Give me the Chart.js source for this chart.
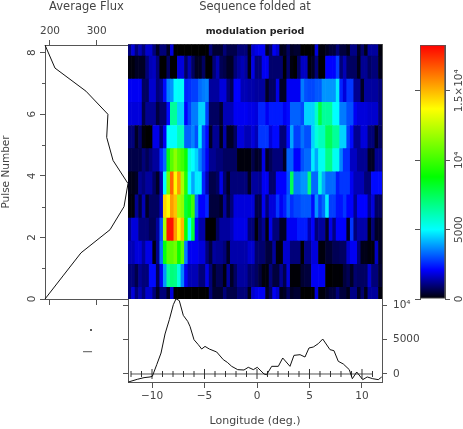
<!DOCTYPE html>
<html>
<head>
<meta charset="utf-8">
<script src="https://cdn.jsdelivr.net/npm/chart.js@4/dist/chart.umd.min.js"></script>
<style>
html,body{margin:0;padding:0;background:#fff;width:463px;height:429px;overflow:hidden}
canvas{position:absolute;left:0;top:0}
</style>
</head>
<body>
<canvas id="cLeft" width="463" height="429"></canvas>
<canvas id="cHeat" width="463" height="429"></canvas>
<canvas id="cBottom" width="463" height="429"></canvas>
<canvas id="cMarks" width="463" height="429"></canvas>
<canvas id="cBar" width="463" height="429"></canvas>
<script>
// ---------- data ----------
const pulseNumbers = [0, 0.75, 1.5, 2.25, 3, 3.75, 4.5, 5.25, 6, 6.75, 7.5, 8.25];
const averageFlux = [189.3, 227.8, 266.4, 328.5, 358.5, 367, 335, 321.4, 324, 277, 210.7, 189.3];

const pulse000 = [1000,1800,1000,1500,1000,1700,1700,1000,300,1000,1000,300,1800,0,0,0,0,0,0,0,0,0,0,1000,400,400,400,1000,600,600,600,1000,1000,1000,200,1700,
  1900,2000,2000,300,800,2000,1700,200,300,800,300,400,400,0,0,0,0,1800,100,100,300,500,500,1000,500,500,200,1100,1100,300,900,200,1300,1300,1300,100];
const pulse075 = [1000,1000,600,1200,1000,1000,2200,2200,700,2000,3800,6500,7000,6800,5500,3600,2000,1500,1500,1500,1000,1000,1900,1000,300,700,700,100,1300,300,800,1300,1300,1300,900,1000,
  800,500,100,100,1000,500,500,1200,600,1800,50,50,50,400,500,500,2000,2000,2000,2000,0,0,50,50,50,500,700,300,900,800,800,800,1700,1000,1000,400];
const pulse150 = [1500,1500,1800,1800,1300,1900,1900,100,1200,3400,8500,10500,10500,11000,9000,10500,3500,2000,2000,2000,1800,1800,1000,500,1300,1200,1200,1000,300,1400,1400,1400,1400,1400,1700,1700,
  900,900,900,500,500,1300,100,100,1700,1700,1000,1000,1000,0,1100,1100,1800,1800,100,100,400,400,700,700,800,800,1700,2000,2000,1000,200,200,100,100,1600,300];
const pulse225 = [1200,1800,1800,1000,1000,1000,700,700,1300,3000,12000,18000,18000,15500,13800,15000,9000,5000,8000,2100,1400,1400,0,0,0,800,1300,1300,1300,1500,1900,1900,1900,1900,1000,1000,
  50,800,1200,100,1900,1000,1000,300,300,2000,2000,2000,2400,2400,2400,1500,2100,1000,1300,1300,300,1900,1100,2100,2100,2100,300,2700,1000,1400,1400,1400,100,1000,300,300];
const pulse300 = [100,100,1200,500,1500,300,800,800,800,1600,14500,13800,15500,14800,12000,11500,8000,8500,10000,3300,2100,2100,2500,500,500,500,300,1300,500,1000,1800,1800,1800,1800,1800,1800,
  600,600,2000,1000,1800,1800,2700,2000,2400,3200,2600,2900,2900,3100,3100,3100,2200,3800,2800,3300,4800,2800,2800,2300,2300,2700,2100,2100,1200,2100,2100,2100,1200,1800,800,800];
const pulse375 = [200,200,300,1200,1000,1300,1300,800,300,1500,5000,11000,16500,13800,15500,12000,9500,5000,4000,4800,4800,2500,1500,600,600,800,1900,900,300,1000,1000,1000,1000,1000,300,1300,
  1300,1200,2000,2000,900,900,2100,2100,2100,3000,7500,3500,3500,3800,3800,7000,3300,3300,5500,4000,3300,3300,3300,2400,2700,2700,2700,2000,1500,1500,1500,1000,1000,2200,2200,2200];
const pulse450 = [600,600,600,600,1000,700,1000,1300,1300,2500,3300,8500,10500,11500,10500,10000,9000,5500,5000,4500,3600,2800,2000,1200,1200,1000,1000,800,800,800,800,100,100,100,100,600,
  300,400,1900,300,700,1000,1000,1000,300,3200,3200,2100,2100,3000,3300,3300,4800,4000,5200,5200,6800,6800,5200,5200,3600,2600,2600,1600,1600,1200,1200,1200,300,300,1200,1200];
const pulse525 = [1000,1000,300,800,100,0,0,1900,1900,900,2000,5000,5000,5000,6000,6000,3200,3200,3600,3000,4800,2900,2200,300,1200,1200,200,1400,300,300,800,1800,1800,1500,1500,1800,
  1500,2700,2700,2700,1800,2200,2200,1000,1000,2200,4000,2800,2800,3400,3000,3000,4500,5500,6000,6000,7500,7500,6500,6500,4500,4500,2800,2200,1200,1200,1800,1800,1000,1000,300,800];
const pulse600 = [1800,1800,1800,1800,600,1200,1200,1200,500,900,900,2200,6500,6500,4500,4500,2100,2800,3500,3500,4500,4500,2800,800,800,800,400,1500,1500,1500,2000,2000,2000,2000,1900,1900,
  1800,2500,2500,2000,2400,2400,2400,2400,2000,2200,3200,3200,3200,2900,4500,4500,4500,5800,7800,6500,6500,6500,5000,5000,3500,3500,3000,3000,2000,1800,1800,1800,1700,1700,1700,1000];
const pulse675 = [2000,2000,2000,2000,800,800,1700,1700,1000,1200,2200,3600,3800,5000,5100,5100,2500,2600,2800,2800,3300,3500,3600,1300,1300,1300,1800,1800,1000,700,2100,2100,1500,1500,1400,1400,
  1300,1300,1300,300,800,800,1900,300,300,2000,2000,2000,2000,3500,3000,2900,2900,3100,3100,3800,3800,3800,3800,4800,2500,1800,2700,2700,1200,1200,300,1300,1300,1300,1300,1000];
const pulse750 = [100,100,300,300,300,1000,1500,1600,1000,0,0,800,0,0,1800,1800,800,1500,800,300,300,800,0,0,1000,1500,700,600,300,300,1000,1300,1500,1300,200,1900,
  1000,1000,2000,2000,900,900,900,900,0,900,100,0,800,1600,1600,100,300,1000,0,0,2100,2100,2100,2800,1000,1500,800,800,800,200,1200,1200,800,1000,1000,200];
const pulse825 = [1000,1800,1000,1500,1000,1700,1700,1000,300,1000,1000,300,1800,0,0,0,0,0,0,0,0,0,0,1000,400,400,400,1000,600,600,600,1000,1000,1000,200,1700,
  1900,2000,2000,300,800,2000,1700,200,300,800,300,400,400,0,0,0,0,1800,100,100,300,500,500,1000,500,500,200,1100,1100,300,900,200,1300,1300,1300,100];
const heatRows = [pulse000,pulse075,pulse150,pulse225,pulse300,pulse375,pulse450,pulse525,pulse600,pulse675,pulse750,pulse825];

const profileLongitude = [-12.25,-11.4,-10.76,-10.19,-9.97,-9.55,-9.14,-8.76,-8.35,-7.97,-7.71,-7.4,-7.02,-6.6,-6.38,-6.0,-5.59,-5.27,-4.95,-4.54,-3.84,-3.21,-2.83,-2.41,-1.84,-1.24,-0.83,-0.35,0.03,0.67,0.92,1.4,2.03,2.45,3.14,3.52,4.1,4.57,4.95,5.36,5.84,6.26,6.95,7.33,7.74,8.22,8.79,9.08,9.5,10.07,10.5,11.02,11.55,11.88];
const profileFlux = [-1160,-770,-530,-430,-340,1350,3040,5800,7870,10050,10900,10630,8500,7630,6900,4970,4250,3620,4000,3620,3190,2080,1690,1110,630,580,970,630,970,0,-100,1110,1110,2320,1110,2700,2800,2460,3770,3910,4400,5070,3530,3380,1840,1450,630,-680,290,-820,-430,-680,-820,-430];

const zeroLineTicks = [-12,-11,-10,-9,-8,-7,-6,-5,-4,-3,-2,-1,0,1,2,3,4,5,6,7,8,9,10,11];
const longitudeTicks = [-10,-5,0,5,10];
const longitudeLabels = ['\u221210','\u22125','0','5','10'];
const pulseTicks = [0,2,4,6,8];
const pulseMinorTicks = [1,3,5,7];
const fluxTicks = [200,300];
const profileTicks = [0,5000,10000];
const profileTickLabels = ['0','5000','10\u2074'];
const colorbarTicks = [0,5000,10000,15000];
const colorbarLabels = ['0','5000','10\u2074','1.5\u00d710\u2074'];
const colormapValues = [0,2100,5000,8800,13700,18300];
const colormapColors = [[0,0,0],[0,0,255],[0,255,255],[0,255,0],[255,255,0],[255,0,0]];
const dashFlux = [270.7,290];
const dashLevel = [3230,3230];
const dotFlux = [287.8];
const dotLevel = [6377];

// ---------- ranges and styles ----------
const LON_MIN = -12.286, LON_MAX = 11.905;
const PULSE_MIN = 0, PULSE_MAX = 8.25;
const FLUX_MIN = 189.3, FLUX_MAX = 367;
const PROF_MIN = -1160, PROF_MAX = 10870;
const CB_MAX = 18300;
const FONT = 'DejaVu Sans';
const INK = '#444';
const AXIS = '#555';

Chart.defaults.animation = false;
Chart.defaults.responsive = false;
Chart.defaults.maintainAspectRatio = false;
Chart.defaults.font.family = FONT;
Chart.defaults.color = INK;
Chart.defaults.plugins.legend.display = false;
Chart.defaults.plugins.tooltip.enabled = false;

function colorFor(v){
  const s = colormapValues, c = colormapColors;
  if (v <= s[0]) return 'rgb(0,0,0)';
  for (let i = 1; i < s.length; i++){
    if (v <= s[i]){
      const t = (v - s[i-1]) / (s[i] - s[i-1]);
      const m = c[i-1].map((a,k) => Math.round(a + (c[i][k]-a)*t));
      return `rgb(${m[0]},${m[1]},${m[2]})`;
    }
  }
  return 'rgb(255,0,0)';
}
function fixTicks(values){ return s => { s.ticks = values.map(value => ({value})); }; }
function fixW(w){ return s => { s.width = w; }; }
function fixH(h){ return s => { s.height = h; }; }
function gridTicks(len){ return {display:true, drawOnChartArea:false, drawTicks:true, tickLength:len, tickColor:AXIS, tickWidth:1}; }
const noGrid = {display:false, drawOnChartArea:false, drawTicks:false};
const border = {display:true, color:AXIS, width:1};

// ---------- left panel: average flux ----------
const minorTickPlugin = {
  id:'minorTicks',
  afterDraw(chart){
    const s = chart.scales.y, c = chart.ctx;
    c.save(); c.strokeStyle = AXIS; c.lineWidth = 1; c.beginPath();
    pulseMinorTicks.forEach(v => {
      const y = Math.round(s.getPixelForValue(v)) + 0.5;
      c.moveTo(chart.chartArea.left - 3, y); c.lineTo(chart.chartArea.left, y);
    });
    c.stroke(); c.restore();
  }
};
new Chart(document.getElementById('cLeft'), {
  type:'scatter',
  data:{datasets:[{data:pulseNumbers.map((p,i)=>({x:averageFlux[i],y:p})), showLine:true, pointRadius:0, borderColor:'#111', borderWidth:1, clip:false}]},
  options:{
    layout:{padding:{left:0,top:0,right:335,bottom:130}},
    scales:{
      x:{type:'linear',position:'top',min:FLUX_MIN,max:FLUX_MAX,grid:gridTicks(5),border,
        afterBuildTicks:fixTicks(fluxTicks),afterFit:fixH(45),
        ticks:{padding:2,autoSkip:false,maxRotation:0,font:{size:10.5},callback:v=>String(v)},
        title:{display:true,text:'Average Flux',font:{size:11.5},padding:{top:0,bottom:0}}},
      xb:{type:'linear',position:'bottom',min:FLUX_MIN,max:FLUX_MAX,grid:gridTicks(6),border,
        afterBuildTicks:fixTicks(fluxTicks),afterFit:fixH(0),ticks:{display:false}},
      y:{type:'linear',position:'left',min:PULSE_MIN,max:PULSE_MAX,grid:gridTicks(5),border,
        afterBuildTicks:fixTicks(pulseTicks),afterFit:fixW(45),
        ticks:{minRotation:90,maxRotation:90,crossAlign:'center',padding:4,autoSkip:false,font:{size:10.5},callback:v=>String(v)},
        title:{display:true,text:'Pulse Number',font:{size:10.5},padding:{top:0,bottom:0}}}
    }
  },
  plugins:[minorTickPlugin]
});

// ---------- main panel: folded sequence ----------
const columnWidth = (LON_MAX - LON_MIN) / heatRows[0].length;
new Chart(document.getElementById('cHeat'), {
  type:'bar',
  data:{datasets:heatRows.map((row,r)=>({
    data:row.map((v,c)=>({x:LON_MIN+(c+0.5)*columnWidth,y:[pulseNumbers[r]-0.375,pulseNumbers[r]+0.375]})),
    backgroundColor:row.map(colorFor),
    borderWidth:0,
    grouped:false,
    barPercentage:1,
    categoryPercentage:1
  }))},
  options:{
    layout:{padding:{left:128,right:81,bottom:130,top:0}},
    plugins:{
      title:{display:true,fullSize:false,text:'Sequence folded at',color:INK,font:{size:11.5,weight:'normal',lineHeight:1},padding:{top:1,bottom:14}},
      subtitle:{display:true,fullSize:false,text:'modulation period',color:'#222',font:{size:9.5,weight:'bold',lineHeight:1},padding:{top:0,bottom:8.5}}
    },
    scales:{
      x:{type:'linear',position:'top',offset:false,min:LON_MIN,max:LON_MAX,grid:noGrid,border,ticks:{display:false},afterFit:fixH(0)},
      y:{type:'linear',position:'right',min:PULSE_MIN,max:PULSE_MAX,grid:noGrid,border,ticks:{display:false},afterFit:fixW(0)}
    }
  }
});

// ---------- bottom panel: integrated profile ----------
new Chart(document.getElementById('cBottom'), {
  type:'scatter',
  data:{datasets:[
    {data:zeroLineTicks.map(l=>({x:l,y:0})), showLine:true, borderColor:AXIS, borderWidth:1,
     pointStyle:'line', pointRotation:90, pointBorderColor:'#333', pointBorderWidth:1,
     pointRadius:ctx=>(ctx.raw && ctx.raw.x%5===0 ? 5 : 3), order:2, clip:false},
    {data:profileLongitude.map((l,i)=>({x:l,y:profileFlux[i]})), showLine:true, pointRadius:0, borderColor:'#111', borderWidth:1, order:1, clip:false}
  ]},
  options:{
    layout:{padding:{top:299,left:0,right:0,bottom:0}},
    scales:{
      x:{type:'linear',position:'bottom',min:LON_MIN,max:LON_MAX,grid:gridTicks(6),border,
        afterBuildTicks:fixTicks(longitudeTicks),afterFit:fixH(47),
        ticks:{padding:2,autoSkip:false,maxRotation:0,font:{size:10.5},callback:v=>longitudeLabels[longitudeTicks.indexOf(v)]},
        title:{display:true,text:'Longitude (deg.)',font:{size:11},padding:{top:0,bottom:1}}},
      y:{type:'linear',position:'left',min:PROF_MIN,max:PROF_MAX,grid:gridTicks(5),border,
        afterBuildTicks:fixTicks(profileTicks),afterFit:fixW(128),ticks:{display:false}},
      yr:{type:'linear',position:'right',min:PROF_MIN,max:PROF_MAX,grid:gridTicks(5),border,
        afterBuildTicks:fixTicks(profileTicks),afterFit:fixW(81),
        ticks:{padding:6,autoSkip:false,font:{size:10.5},callback:v=>profileTickLabels[profileTicks.indexOf(v)]}}
    }
  }
});

// ---------- small marks under the left panel ----------
new Chart(document.getElementById('cMarks'), {
  type:'scatter',
  data:{datasets:[
    {data:dashFlux.map((f,i)=>({x:f,y:dashLevel[i]})), showLine:true, pointRadius:0, borderColor:'#555', borderWidth:1},
    {data:dotFlux.map((f,i)=>({x:f,y:dotLevel[i]})), pointRadius:1, pointBackgroundColor:'#222', pointBorderWidth:0}
  ]},
  options:{
    layout:{padding:{left:45,right:335,top:299,bottom:47}},
    scales:{
      x:{type:'linear',display:false,min:FLUX_MIN,max:FLUX_MAX},
      y:{type:'linear',display:false,min:PROF_MIN,max:PROF_MAX}
    }
  }
});

// ---------- colour bar ----------
new Chart(document.getElementById('cBar'), {
  type:'bar',
  data:{labels:['flux'],datasets:[{
    data:[[0,CB_MAX]],
    barPercentage:1,categoryPercentage:1,borderWidth:1,borderColor:AXIS,borderSkipped:false,
    backgroundColor(ctx){
      const ch = ctx.chart;
      if (!ch.chartArea) return '#000';
      const s = ch.scales.y;
      const g = ch.ctx.createLinearGradient(0,s.getPixelForValue(0),0,s.getPixelForValue(CB_MAX));
      colormapValues.forEach((v,i)=>{ g.addColorStop(v/CB_MAX,colorFor(v)); });
      return g;
    }
  }]},
  options:{
    layout:{padding:{top:45,bottom:130}},
    scales:{
      x:{display:false},
      y:{type:'linear',position:'left',min:0,max:CB_MAX,grid:gridTicks(5),border,
        afterBuildTicks:fixTicks(colorbarTicks),afterFit:fixW(420),ticks:{display:false}},
      yr:{type:'linear',position:'right',min:0,max:CB_MAX,grid:gridTicks(5),border,
        afterBuildTicks:fixTicks(colorbarTicks),afterFit:fixW(18),
        ticks:{minRotation:90,maxRotation:90,crossAlign:'center',padding:-12,autoSkip:false,font:{size:10.5},
          callback:v=>colorbarLabels[colorbarTicks.indexOf(v)]}}
    }
  }
});
</script>
</body>
</html>
